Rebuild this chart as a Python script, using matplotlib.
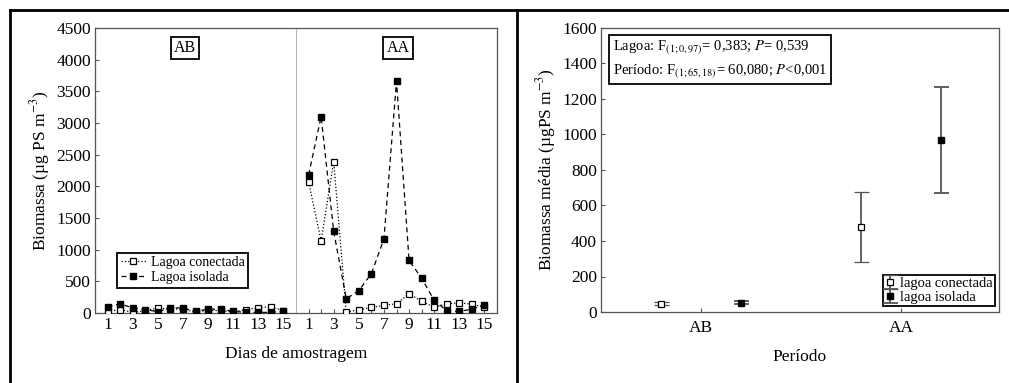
import numpy as np
import matplotlib
matplotlib.use("Agg")
import matplotlib.pyplot as plt
from matplotlib.lines import Line2D

plt.rcParams['font.family'] = ['Liberation Serif', 'DejaVu Serif']
plt.rcParams['mathtext.fontset'] = 'stix'

# biomassa diaria, periodos AB e AA (15 dias cada)
dias = list(range(1, 16))
ab_conectada = [20, 55, 10, 35, 80, 60, 60, 15, 40, 40, 15, 55, 80, 100, 35]
ab_isolada = [95, 145, 80, 55, 20, 80, 80, 25, 60, 60, 25, 10, 10, 10, 25]
aa_conectada = [2070, 1140, 2390, 15, 50, 90, 120, 145, 305, 185, 90, 145, 160, 140, 90]
aa_isolada = [2180, 3100, 1290, 225, 355, 620, 1170, 3660, 830, 550, 200, 35, 25, 60, 130]

# medias por periodo (+- erro)
periodos = ['AB', 'AA']
media_conectada = [47, 480]
erro_conectada = [8, 198]
media_isolada = [53, 970]
erro_isolada = [8, 297]

W, H = 1009, 383
fig = plt.figure(figsize=(W / 100, H / 100), dpi=100)

spine_col = '#555555'
tick_fs = 12.5
label_fs = 12.5
leg_fs = 10.5

# ---- painel esquerdo
ax1 = fig.add_axes([95 / W, 1 - 313 / H, 402 / W, 285 / H])
x_ab = np.array(dias)
x_aa = np.array(dias) + 16
ax1.plot(x_ab, ab_conectada, ls=':', color='black', lw=0.9, marker='s', ms=5,
         mfc='white', mec='black', mew=0.9, label='Lagoa conectada', zorder=3)
ax1.plot(x_aa, aa_conectada, ls=':', color='black', lw=0.9, marker='s', ms=5,
         mfc='white', mec='black', mew=0.9, zorder=3)
ax1.plot(x_ab, ab_isolada, ls=(0, (4, 3)), color='black', lw=0.9, marker='s', ms=5,
         mfc='black', mec='black', label='Lagoa isolada', zorder=4)
ax1.plot(x_aa, aa_isolada, ls=(0, (4, 3)), color='black', lw=0.9, marker='s', ms=5,
         mfc='black', mec='black', zorder=4)
ax1.axvline(16, color='#b8b8b8', lw=0.8)

ax1.set_xlim(0, 32)
ax1.set_ylim(0, 4500)
ax1.set_yticks(range(0, 4501, 500))
ticks = list(x_ab) + list(x_aa)
ax1.set_xticks(ticks)
ax1.set_xticklabels([str(d) if d % 2 == 1 else '' for d in dias] * 2)
ax1.tick_params(direction='in', length=3, color=spine_col, labelsize=tick_fs, pad=3)
for s in ax1.spines.values():
    s.set_color(spine_col)
    s.set_linewidth(0.9)
ax1.set_ylabel('Biomassa (µg PS m$^{-3}$)', fontsize=label_fs, labelpad=3)
ax1.set_xlabel('Dias de amostragem', fontsize=label_fs, labelpad=9)

box = dict(boxstyle='square,pad=0.2', fc='white', ec='black', lw=1.3)
ax1.text(0.224, 0.93, 'AB', transform=ax1.transAxes, ha='center', va='center',
         fontsize=11.5, bbox=box)
ax1.text(0.754, 0.93, 'AA', transform=ax1.transAxes, ha='center', va='center',
         fontsize=11.5, bbox=box)

leg1 = ax1.legend(loc='upper left', bbox_to_anchor=(0.055, 0.212), fontsize=10,
                  handlelength=1.8, handletextpad=0.4, borderpad=0.25,
                  labelspacing=0.15, fancybox=False, framealpha=1, borderaxespad=0)
leg1.get_frame().set_edgecolor('black')
leg1.get_frame().set_linewidth(1.3)

# ---- painel direito
ax2 = fig.add_axes([601 / W, 1 - 312 / H, 398 / W, 284 / H])
xp = np.arange(len(periodos))
ax2.errorbar(xp - 0.2, media_conectada, yerr=erro_conectada, fmt='s', ms=5,
             mfc='white', mec='black', mew=0.9, ecolor=spine_col, elinewidth=1.3,
             capsize=5.4, capthick=1.3, label='lagoa conectada', zorder=3)
ax2.errorbar(xp + 0.2, media_isolada, yerr=erro_isolada, fmt='s', ms=5,
             mfc='black', mec='black', ecolor=spine_col, elinewidth=1.3,
             capsize=5.4, capthick=1.3, label='lagoa isolada', zorder=3)
ax2.set_xlim(-0.5, 1.49)
ax2.set_ylim(0, 1600)
ax2.set_yticks(range(0, 1601, 200))
ax2.set_xticks(xp)
ax2.set_xticklabels(periodos)
ax2.tick_params(direction='in', length=3, color=spine_col, labelsize=tick_fs, pad=3)
ax2.tick_params(axis='x', pad=6)
for s in ax2.spines.values():
    s.set_color(spine_col)
    s.set_linewidth(0.9)
ax2.set_ylabel('Biomassa média (µgPS m$^{-3}$)', fontsize=label_fs, labelpad=3)
ax2.set_xlabel('Período', fontsize=label_fs, labelpad=9)

ax2.text(0.03, 0.963,
         'Lagoa: F$_{(1;0,97)}$= 0,383; $P$= 0,539\n'
         'Período: F$_{(1;65,18)}$= 60,080; $P$<0,001',
         transform=ax2.transAxes, ha='left', va='top', fontsize=10.5, linespacing=1.5,
         bbox=dict(boxstyle='square,pad=0.25', fc='white', ec='black', lw=1.3))

leg2 = ax2.legend(loc='lower right', bbox_to_anchor=(0.99, 0.02), fontsize=leg_fs,
                  handlelength=0.6, handletextpad=0.4, borderpad=0.15,
                  labelspacing=0.05, fancybox=False, framealpha=1, borderaxespad=0)
leg2.get_frame().set_edgecolor('black')
leg2.get_frame().set_linewidth(1.3)

# moldura externa
fig.add_artist(Line2D([10 / W, 1], [1 - 10 / H, 1 - 10 / H], color='black', lw=2))
fig.add_artist(Line2D([10 / W, 10 / W], [0, 1 - 10 / H], color='black', lw=2))
fig.add_artist(Line2D([517 / W, 517 / W], [0, 1 - 10 / H], color='black', lw=2))

fig.savefig('out.png', dpi=100)
